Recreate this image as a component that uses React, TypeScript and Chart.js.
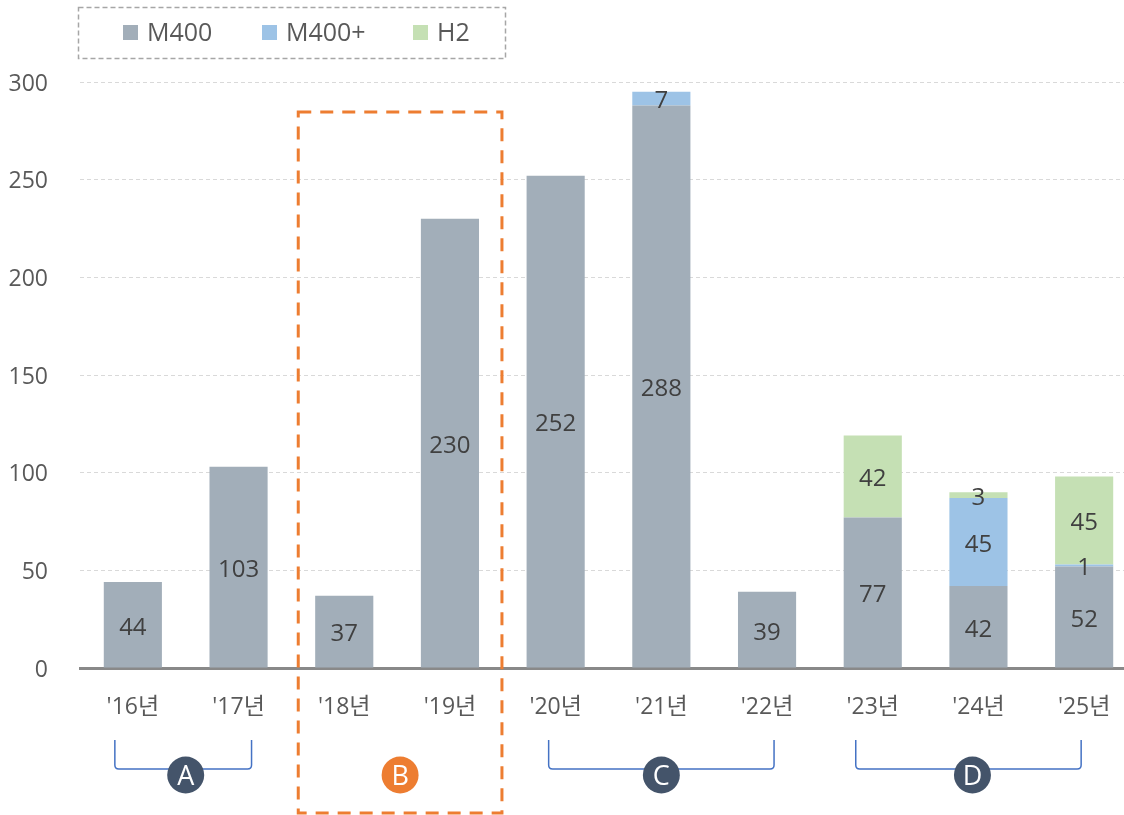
import React, { useEffect, useRef } from "react";
import { Chart, registerables } from "chart.js";

Chart.register(...registerables);

const categories = ["'16년", "'17년", "'18년", "'19년", "'20년", "'21년", "'22년", "'23년", "'24년", "'25년"];
const m400 = [44, 103, 37, 230, 252, 288, 39, 77, 42, 52];
const m400plus = [0, 0, 0, 0, 0, 7, 0, 0, 45, 1];
const h2 = [0, 0, 0, 0, 0, 0, 0, 42, 3, 45];
const seriesNames = ["M400", "M400+", "H2"];
const seriesColors = ["#a2aeb9", "#9dc3e6", "#c5e0b4"];
const groups = [
  { label: "A", from: 0, to: 1, bracket: true, color: "#44546a", lOff: -18, rOff: 13, cOff: 0 },
  { label: "B", from: 2, to: 3, bracket: false, color: "#ed7d31", lOff: -46, rOff: 52, cOff: 3 },
  { label: "C", from: 4, to: 6, bracket: true, color: "#44546a", lOff: -7, rOff: 7, cOff: 0 },
  { label: "D", from: 7, to: 9, bracket: true, color: "#44546a", lOff: -17, rOff: -3, cOff: -6 },
];

const FONT = '"Open Sans", "Noto Sans CJK KR", sans-serif';

const overlayPlugin = {
  id: "overlay",
  afterDatasetsDraw(chart: any) {
    const ctx = chart.ctx;
    ctx.save();
    ctx.font = `24px ${FONT}`;
    ctx.fillStyle = "#404040";
    ctx.textAlign = "center";
    ctx.textBaseline = "middle";
    chart.data.datasets.forEach((ds: any, di: number) => {
      const meta = chart.getDatasetMeta(di);
      meta.data.forEach((el: any, i: number) => {
        const v = ds.data[i];
        if (!v) return;
        ctx.fillText(String(v), el.x, (el.y + el.base) / 2 + 3);
      });
    });
    ctx.restore();
  },
  afterDraw(chart: any) {
    const ctx = chart.ctx;
    const x = chart.scales.x;
    ctx.save();

    // legend box
    ctx.strokeStyle = "#a6a6a6";
    ctx.lineWidth = 1.5;
    ctx.setLineDash([5, 3]);
    ctx.strokeRect(78.5, 7.5, 427, 51);
    ctx.setLineDash([]);
    const legendX = [123, 262, 413];
    ctx.font = `25px ${FONT}`;
    ctx.textBaseline = "middle";
    ctx.textAlign = "left";
    seriesNames.forEach((n, i) => {
      ctx.fillStyle = seriesColors[i];
      ctx.fillRect(legendX[i], 25, 15, 15);
      ctx.fillStyle = "#595959";
      ctx.fillText(n, legendX[i] + 24, 34);
    });

    // groups
    groups.forEach((g) => {
      const a = x.getPixelForValue(g.from);
      const b = x.getPixelForValue(g.to);
      const cx = (a + b) / 2 + g.cOff;
      const cy = 775;
      const l = a + g.lOff;
      const r = b + g.rOff;
      if (g.bracket) {
        ctx.strokeStyle = "#4472c4";
        ctx.lineWidth = 1.5;
        ctx.beginPath();
        ctx.moveTo(l, 740);
        ctx.lineTo(l, 765);
        ctx.quadraticCurveTo(l, 769, l + 4, 769);
        ctx.lineTo(r - 4, 769);
        ctx.quadraticCurveTo(r, 769, r, 765);
        ctx.lineTo(r, 740);
        ctx.stroke();
      } else {
        ctx.strokeStyle = "#ed7d31";
        ctx.lineWidth = 3;
        ctx.setLineDash([13, 9]);
        ctx.strokeRect(l, 112, r - l, 701);
        ctx.setLineDash([]);
      }
      ctx.fillStyle = g.color;
      ctx.beginPath();
      ctx.arc(cx, cy, 18.5, 0, Math.PI * 2);
      ctx.fill();
      ctx.fillStyle = "#ffffff";
      ctx.font = `27px ${FONT}`;
      ctx.textAlign = "center";
      ctx.textBaseline = "middle";
      ctx.fillText(g.label, cx, cy + 2);
    });
    ctx.restore();
  },
};

export default function App() {
  const ref = useRef<HTMLCanvasElement | null>(null);
  useEffect(() => {
    document.body.style.margin = "0";
    document.body.style.overflow = "hidden";
    const canvas = ref.current;
    if (!canvas) return;
    const chart = new Chart(canvas, {
      type: "bar",
      data: {
        labels: categories,
        datasets: [
          { label: seriesNames[0], data: m400, backgroundColor: seriesColors[0] },
          { label: seriesNames[1], data: m400plus, backgroundColor: seriesColors[1] },
          { label: seriesNames[2], data: h2, backgroundColor: seriesColors[2] },
        ],
      },
      options: {
        responsive: false,
        animation: false,
        devicePixelRatio: 1,
        layout: { padding: { top: 82, left: 0, right: 0, bottom: 0 } },
        datasets: { bar: { barPercentage: 1, categoryPercentage: 0.55 } },
        plugins: { legend: { display: false }, tooltip: { enabled: false } },
        scales: {
          x: {
            stacked: true,
            grid: { display: false, drawTicks: false },
            border: { display: true, color: "#898989", width: 3 },
            ticks: { color: "#595959", font: { family: FONT, size: 23 }, padding: 26 },
            afterFit: (s: any) => {
              s.height = 147;
            },
          },
          y: {
            stacked: true,
            min: 0,
            max: 300,
            grid: { color: "#d9d9d9", drawTicks: false, lineWidth: 1 },
            border: { display: false, dash: [4, 3] },
            ticks: { stepSize: 50, color: "#595959", font: { family: FONT, size: 23 }, padding: 32, labelOffset: 2 },
            afterFit: (s: any) => {
              s.width = 80;
            },
          },
        },
      },
      plugins: [overlayPlugin],
    });
    return () => chart.destroy();
  }, []);
  return (
    <div style={{ position: "relative", width: 1124, height: 815, overflow: "hidden" }}>
      <canvas ref={ref} width={1137} height={815} style={{ display: "block", width: 1137, height: 815 }} />
    </div>
  );
}
